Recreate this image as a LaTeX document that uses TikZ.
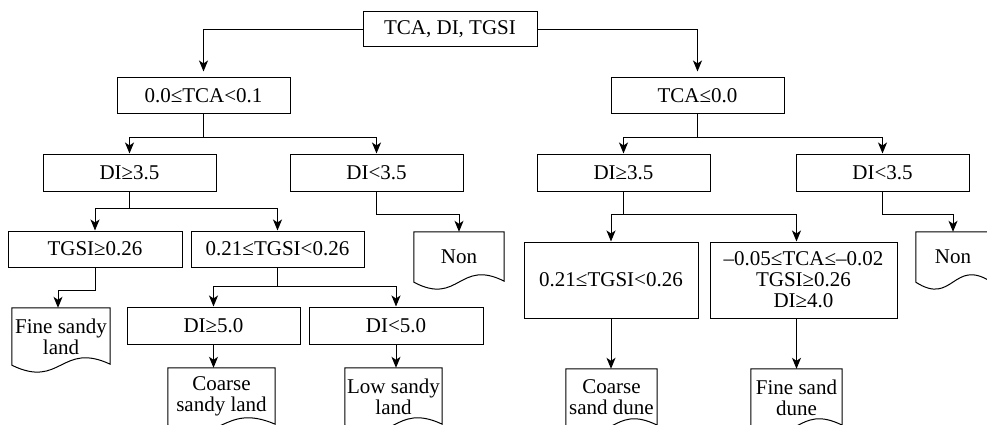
\documentclass[tikz,border=0pt]{standalone}
\usepackage{fontspec}
\setmainfont{Liberation Serif}
\usepackage{tikz}
\usetikzlibrary{positioning,arrows.meta,calc}

\tikzset{
  line/.style={line width=1pt},
  box/.style={line, draw, minimum width=173pt, minimum height=36pt, inner sep=0pt},
  doc/.style={inner sep=0pt, align=center},
  arr/.style={line, -{Stealth[length=11pt,width=9pt,inset=3pt]}}
}
% outline of a document symbol round a node
\newcommand{\docpath}[1]{%
  \draw[line] (#1.north west) -- (#1.south west)
    .. controls ($(#1.south)+(0,-24pt)$) and ($(#1.south)+(0,24pt)$) .. ([yshift=1pt]#1.south east)
    -- (#1.north east) -- cycle;}

\begin{document}
\begin{tikzpicture}[x=1pt,y=-1pt,font=\fontsize{21}{21}\selectfont]
\clip (0,0) rectangle (987,425);

\node[box, minimum width=174pt, minimum height=35pt] (root) at (450,29.5) {TCA, DI, TGSI};

\node[box] (a) at (203.5,96) {0.0≤TCA<0.1};
\node[box] (b) at (697.5,96) {TCA≤0.0};

\node[box, minimum height=37pt] (a1) at (129.5,172.5) {DI≥3.5};
\node[box, minimum height=37pt] (a2) at (376.5,172.5) {DI<3.5};
\node[box, minimum height=37pt] (b1) at (623.5,172.5) {DI≥3.5};
\node[box, minimum height=37pt] (b2) at (882.5,172.5) {DI<3.5};

\node[box, minimum width=174pt] (a11) at (95,249) {TGSI≥0.26};
\node[box] (a12) at (277.5,249) {0.21≤TGSI<0.26};
\node[box, minimum height=37pt] (a121) at (213.5,325.5) {DI≥5.0};
\node[box, minimum width=174pt, minimum height=37pt] (a122) at (396,325.5) {DI<5.0};

\node[box, minimum width=174pt, minimum height=76pt] (b11) at (611,280) {0.21≤TGSI<0.26};
\node[box, minimum width=187pt, minimum height=76pt, align=center] (b12) at (803.5,280)
  {–0.05≤TCA≤–0.02\\TGSI≥0.26\\DI≥4.0};

% end symbols
\node[doc, minimum width=98pt, minimum height=57pt] (fsl) at (61,336.5) {Fine sandy\\land};
\node[doc, minimum width=90pt, minimum height=50pt] (non1) at (459,257) {Non};
\node[doc, minimum width=107pt, minimum height=57pt] (csl) at (221.5,396.5) {Coarse\\sandy land};
\node[doc, minimum width=97pt, minimum height=57pt] (lsl) at (393.5,396.5) {Low sandy\\land};
\node[doc, minimum width=74pt, minimum height=50pt] (non2) at (953,257) {Non};
\node[doc, minimum width=91pt, minimum height=57pt] (csd) at (611.5,397.5) {Coarse\\sand dune};
\node[doc, minimum width=91pt, minimum height=57pt] (fsd) at (796.5,397.5) {Fine sand\\dune};

\foreach \n in {fsl,non1,csl,lsl,non2,csd,fsd} {\docpath{\n}}

% connectors
\draw[arr, shorten >=6pt] (root.west) -| (a.north);
\draw[arr, shorten >=6pt] (root.east) -| (b.north);

\draw[line] (a.south) -- ++(0,23) coordinate (fa);
\draw[arr] (fa) -| (a1.north);
\draw[arr] (fa) -| (a2.north);
\draw[line] (b.south) -- ++(0,23) coordinate (fb);
\draw[arr] (fb) -| (b1.north);
\draw[arr] (fb) -| (b2.north);

\draw[line] (a1.south) -- ++(0,17) coordinate (fa1);
\draw[arr] (fa1) -| (a11.north);
\draw[arr] (fa1) -| (a12.north);
\draw[arr] (a2.south) -- ++(0,23) -| (non1.north);

\draw[line] (b1.south) -- ++(0,23) coordinate (fb1);
\draw[arr] (fb1) -| (b11.north);
\draw[arr] (fb1) -| ([xshift=-7pt]b12.north);
\draw[arr] (b2.south) -- ++(0,23) -| (non2.north);

\draw[arr] (a11.south) -- ++(0,23) -| ([xshift=-3pt]fsl.north);
\draw[line] (a12.south) -- ++(0,19) coordinate (fa12);
\draw[arr] (fa12) -| (a121.north);
\draw[arr] (fa12) -| (a122.north);
\draw[arr] (a121.south) -- (a121.south |- csl.north);
\draw[arr] (a122.south) -- (a122.south |- lsl.north);

\draw[arr] (b11.south) -- (b11.south |- csd.north);
\draw[arr] ([xshift=-7pt]b12.south) -- (fsd.north);
\end{tikzpicture}
\end{document}
